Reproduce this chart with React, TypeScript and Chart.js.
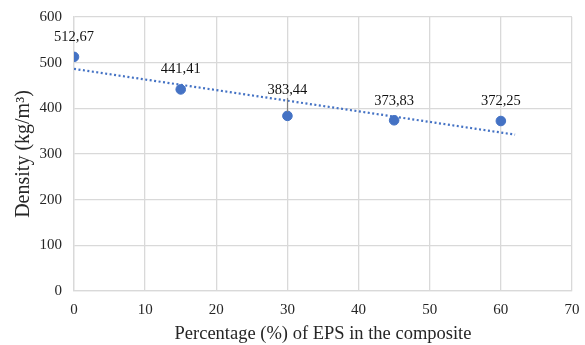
import React, { useEffect, useRef } from "react";
import { Chart, registerables } from "chart.js";

Chart.register(...registerables);

const eps = [0, 15, 30, 45, 60];
const density = [512.67, 441.41, 383.44, 373.83, 372.25];
const densityLabels = ["512,67", "441,41", "383,44", "373,83", "372,25"];
const trendX = [0, 62];
const trendY = [486.4, 342.4];

const labelOffsets = [-20, -20, -26, -19, -20];
const leaderLines = [false, false, true, false, false];

const FONT = "'Liberation Serif', 'Times New Roman', serif";
const BLUE = "#4472C4";
const GRID = "#d9d9d9";

const labelPlugin = {
  id: "pointLabels",
  afterDatasetsDraw(chart: any) {
    const meta = chart.getDatasetMeta(0);
    const ctx = chart.ctx;
    ctx.save();
    ctx.font = `14.5px ${FONT}`;
    ctx.textAlign = "center";
    ctx.textBaseline = "middle";
    meta.data.forEach((pt: any, i: number) => {
      const y = pt.y + labelOffsets[i];
      if (leaderLines[i]) {
        ctx.strokeStyle = "#808080";
        ctx.lineWidth = 1.2;
        ctx.setLineDash([]);
        ctx.beginPath();
        ctx.moveTo(Math.round(pt.x) + 0.5, y + 8);
        ctx.lineTo(Math.round(pt.x) + 0.5, pt.y - 4);
        ctx.stroke();
      }
      ctx.fillStyle = "#111";
      ctx.fillText(densityLabels[i], pt.x, y);
    });
    ctx.restore();
  },
};

export default function App() {
  const ref = useRef<HTMLCanvasElement>(null);
  useEffect(() => {
    document.body.style.margin = "0";
    const chart = new Chart(ref.current!, {
      type: "scatter",
      data: {
        datasets: [
          {
            label: "Density",
            data: eps.map((x, i) => ({ x, y: density[i] })),
            backgroundColor: BLUE,
            borderColor: BLUE,
            pointRadius: 4.8,
            pointHoverRadius: 4.8,
            order: 1,
          },
          {
            type: "line",
            label: "Trend",
            data: trendX.map((x, i) => ({ x, y: trendY[i] })),
            borderColor: BLUE,
            borderWidth: 2.2,
            borderDash: [2, 2.5],
            pointRadius: 0,
            fill: false,
            order: 2,
          } as any,
        ],
      },
      options: {
        animation: false,
        responsive: false,
        maintainAspectRatio: false,
        layout: { padding: { left: 12, right: 13, top: 17, bottom: 0 } },
        plugins: {
          legend: { display: false },
          tooltip: { enabled: false },
        },
        scales: {
          x: {
            type: "linear",
            min: 0,
            max: 70,
            ticks: { stepSize: 10, color: "#262626", font: { family: FONT, size: 15 }, padding: 10 },
            grid: { color: GRID, lineWidth: 1.3, drawTicks: false },
            border: { color: GRID, width: 1.3 },
            title: {
              display: true,
              text: "Percentage (%) of EPS in the composite",
              color: "#262626",
              font: { family: FONT, size: 18.5 },
              padding: { top: 2, bottom: 0 },
            },
            afterFit(scale: any) {
              scale.height = 54;
              scale.paddingLeft = 0;
              scale.paddingRight = 0;
            },
          },
          y: {
            min: 0,
            max: 600,
            ticks: { stepSize: 100, color: "#262626", font: { family: FONT, size: 15 }, padding: 12 },
            grid: { color: GRID, lineWidth: 1.3, drawTicks: false },
            border: { color: GRID, width: 1.3 },
            title: {
              display: true,
              text: "Density (kg/m³)",
              color: "#262626",
              font: { family: FONT, size: 20 },
              padding: { top: 0, bottom: 0 },
            },
            afterFit(scale: any) {
              scale.width = 62;
              scale.paddingTop = 0;
              scale.paddingBottom = 0;
            },
          },
        },
      },
      plugins: [labelPlugin],
    });
    return () => chart.destroy();
  }, []);
  return (
    <div style={{ position: "absolute", left: 0, top: 0, width: 585, height: 345 }}>
      <canvas ref={ref} width={585} height={345} />
    </div>
  );
}
